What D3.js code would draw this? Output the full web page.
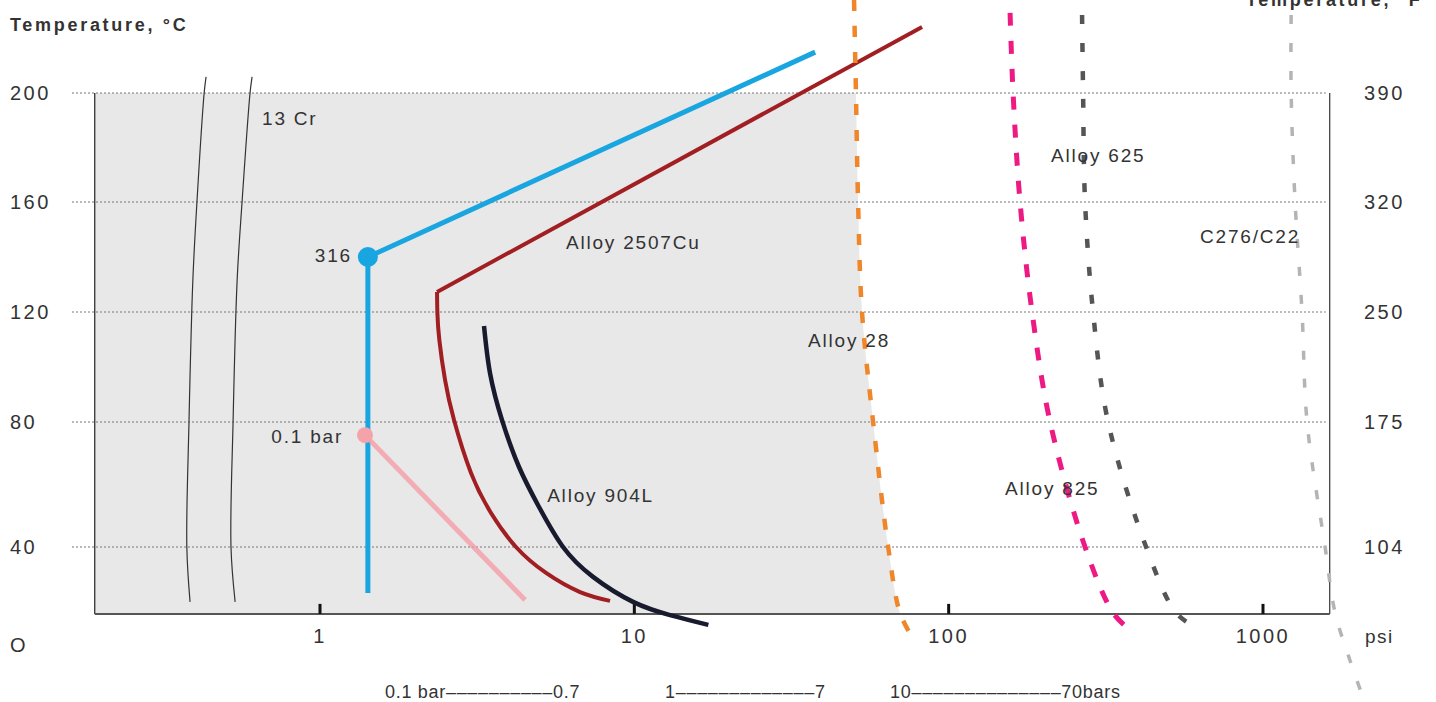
<!DOCTYPE html>
<html>
<head>
<meta charset="utf-8">
<script src="https://cdn.jsdelivr.net/npm/d3@7"></script>
<style>
  body { margin: 0; background: #fff; }
  svg text { font-family: "Liberation Sans", Arial, sans-serif; fill: #333; }
</style>
</head>
<body>
<svg id="chart"></svg>
<script>
const w = 1436;
const h = 702;

// axes
const tempTicks = [0, 40, 80, 120, 160, 200];
const tempLabels = ["O", "40", "80", "120", "160", "200"];
const gridTemps = [40, 80, 120, 160, 200];
const fahrenheitLabels = ["104", "175", "250", "320", "390"];
const psiTicks = [1, 10, 100, 1000];
const psiLabels = ["1", "10", "100", "1000"];
const barRanges = ["0.1 bar––––––––––0.7", "1–––––––––––––7", "10––––––––––––––70bars"];
const psiMin = 0.192;
const psiMax = 1630;
const tempMin = 12.7;

// curves, [psi, °C]
const cr13a = [[0.434, 205.9], [0.428, 200], [0.406, 160], [0.394, 131.6], [0.383, 80], [0.377, 40], [0.386, 17.6]];
const cr13b = [[0.608, 205.9], [0.599, 200], [0.565, 160], [0.545, 131.6], [0.529, 80], [0.521, 40], [0.537, 17.6]];
const ss316 = [[37.6, 215], [1.42, 140], [1.42, 21.2]];
const ss316Point = [1.42, 140];
const bar01 = [[1.39, 75.8], [4.49, 18.4]];
const bar01Point = [1.39, 75.8];
const a2507Top = [[82.3, 224.2], [2.357, 127.3]];
const a2507Curve = [[2.357, 127.3], [2.363, 119.6], [2.397, 109.8], [2.499, 95.3], [2.669, 80.7], [3.023, 63.7], [3.5, 50.9], [4.203, 40], [5.238, 29.4], [6.72, 21.6], [8.37, 18]];
const a904L = [[3.325, 114.9], [3.474, 97.8], [3.794, 80.7], [4.297, 65.6], [4.975, 52.8], [5.932, 40], [7.389, 27.8], [9.906, 17.6], [12.99, 12.2], [17.2, 8.2]];
const a28 = [[50.0, 234.1], [50.7, 200], [51.5, 160], [53.0, 120], [57.5, 80], [64.2, 40], [70.0, 13.1], [75.9, 4.1]];
const a625 = [[156.8, 229.4], [160.3, 200], [168.7, 160], [184.2, 120], [210.2, 80], [271.6, 40], [333.6, 13.1], [377.6, 6.1]];
const a825 = [[265.7, 228.6], [267.7, 200], [271.6, 160], [288.0, 120], [321.5, 80], [424.8, 40], [529.1, 13.1], [617.2, 6.9]];
const c276 = [[1229, 228.6], [1229, 200], [1265, 160], [1331, 120], [1381, 80], [1576, 40], [1696, 13.1], [1866, -4.1], [2067, -20.4]];

// labels: text, psi, °C, anchor
const labels = [
  ["13 Cr", 0.654, 190.8, "start"],
  ["316", 1.264, 140.4, "end"],
  ["0.1 bar", 1.184, 75.5, "end"],
  ["Alloy 2507Cu", 6.06, 145.1, "start"],
  ["Alloy 904L", 5.28, 56.6, "start"],
  ["Alloy 28", 35.7, 109.5, "start"],
  ["Alloy 625", 211.8, 177.2, "start"],
  ["Alloy 825", 151.1, 58.6, "start"],
  ["C276/C22", 630.8, 147.3, "start"]
];

const svg = d3.select("#chart").attr("width", w).attr("height", h);

const x = d3.scaleLog().domain([1, 1000]).range([320, 1263]);
const y = d3.scaleLinear().domain(tempTicks).range([645, 547, 422, 312, 202, 93]);

const xl = x(psiMin), xr = x(psiMax);
const yt = y(200), yb = y(tempMin);

svg.append("defs").append("clipPath").attr("id", "plotClip")
  .append("rect").attr("x", xl).attr("y", yt).attr("width", xr - xl).attr("height", yb - yt);

// gray region up to Alloy 28
svg.append("path")
  .attr("clip-path", "url(#plotClip)")
  .attr("fill", "#e8e8e8")
  .attr("d", d3.area().curve(d3.curveCatmullRom)
    .y(d => y(d[1])).x0(xl).x1(d => x(d[0]))(a28));

// dotted grid
svg.selectAll(".grid").data(gridTemps).enter().append("line")
  .attr("x1", 72).attr("x2", xr - 4)
  .attr("y1", d => y(d)).attr("y2", d => y(d))
  .attr("stroke", "#777").attr("stroke-width", 1).attr("stroke-dasharray", "2,2");

// frame
svg.append("line").attr("x1", xl).attr("x2", xl).attr("y1", yt).attr("y2", yb).attr("stroke", "#333").attr("stroke-width", 1.3);
svg.append("line").attr("x1", xr).attr("x2", xr).attr("y1", yt).attr("y2", yb).attr("stroke", "#444").attr("stroke-width", 1.3);
svg.append("line").attr("x1", xl).attr("x2", xr).attr("y1", yb).attr("y2", yb).attr("stroke", "#555").attr("stroke-width", 2);

// x ticks
svg.selectAll(".xtick").data(psiTicks).enter().append("line")
  .attr("x1", d => x(d)).attr("x2", d => x(d))
  .attr("y1", yb - 10).attr("y2", yb)
  .attr("stroke", "#111").attr("stroke-width", 3);

svg.selectAll(".xlab").data(psiLabels).enter().append("text")
  .attr("x", (d, i) => x(psiTicks[i])).attr("y", 636)
  .attr("text-anchor", "middle").attr("dominant-baseline", "central")
  .attr("font-size", 20).attr("letter-spacing", 2.5)
  .text(d => d);
svg.append("text").attr("x", 1365).attr("y", 636).attr("dominant-baseline", "central")
  .attr("font-size", 19).attr("letter-spacing", 1.5).text("psi");

// y labels
svg.selectAll(".ylab").data(tempLabels).enter().append("text")
  .attr("x", 10).attr("y", (d, i) => y(tempTicks[i]))
  .attr("dominant-baseline", "central")
  .attr("font-size", 20).attr("letter-spacing", 2.5)
  .text(d => d);
svg.selectAll(".flab").data(fahrenheitLabels).enter().append("text")
  .attr("x", 1364).attr("y", (d, i) => y(gridTemps[i]))
  .attr("dominant-baseline", "central")
  .attr("font-size", 20).attr("letter-spacing", 2.5)
  .text(d => d);

// titles (the right one is cut by the top edge, as in the source)
svg.append("text").attr("x", 10).attr("y", 31).attr("font-size", 18).attr("font-weight", "bold")
  .attr("letter-spacing", 2.7).text("Temperature, °C");
svg.append("text").attr("x", 1246).attr("y", 6).attr("font-size", 18).attr("font-weight", "bold")
  .attr("letter-spacing", 2.7).text("Temperature, °F");

// bar ranges
const barX = [385, 665, 890];
svg.selectAll(".bar").data(barRanges).enter().append("text")
  .attr("x", (d, i) => barX[i]).attr("y", 692).attr("dominant-baseline", "central")
  .attr("font-size", 18).attr("letter-spacing", 0.7)
  .text(d => d);

// lines
const smooth = d3.line().x(d => x(d[0])).y(d => y(d[1])).curve(d3.curveCatmullRom);
const soft = d3.line().x(d => x(d[0])).y(d => y(d[1])).curve(d3.curveNatural);
const straight = d3.line().x(d => x(d[0])).y(d => y(d[1]));

function draw(data, gen, color, width, dash, opacity) {
  svg.append("path").attr("d", gen(data)).attr("fill", "none")
    .attr("stroke", color).attr("stroke-width", width)
    .attr("stroke-dasharray", dash || null)
    .attr("stroke-opacity", opacity || 1);
}

draw(cr13a, smooth, "#333", 1.2);
draw(cr13b, smooth, "#333", 1.2);
draw(ss316, straight, "#19a6e0", 5);
svg.append("circle").attr("cx", x(ss316Point[0])).attr("cy", y(ss316Point[1])).attr("r", 10).attr("fill", "#19a6e0");
draw(bar01, straight, "#f59aa3", 5, null, 0.75);
svg.append("circle").attr("cx", x(bar01Point[0])).attr("cy", y(bar01Point[1])).attr("r", 8).attr("fill", "#f5a3ab");
draw(a2507Top, straight, "#a11f22", 4);
draw(a2507Curve, soft, "#a11f22", 4);
draw(a904L, soft, "#181a2e", 4.5);
draw(a28, smooth, "#f0862a", 4.5, "11,15");
draw(a625, smooth, "#ee1a84", 5, "13,15");
draw(a825, smooth, "#555", 4.5, "9,19");
draw(c276, smooth, "#b4b4b4", 3.5, "9,19");

// curve labels
svg.selectAll(".clab").data(labels).enter().append("text")
  .attr("x", d => x(d[1])).attr("y", d => y(d[2]))
  .attr("text-anchor", d => d[3]).attr("dominant-baseline", "central")
  .attr("font-size", 19).attr("letter-spacing", 1.8)
  .text(d => d[0]);
</script>
</body>
</html>
